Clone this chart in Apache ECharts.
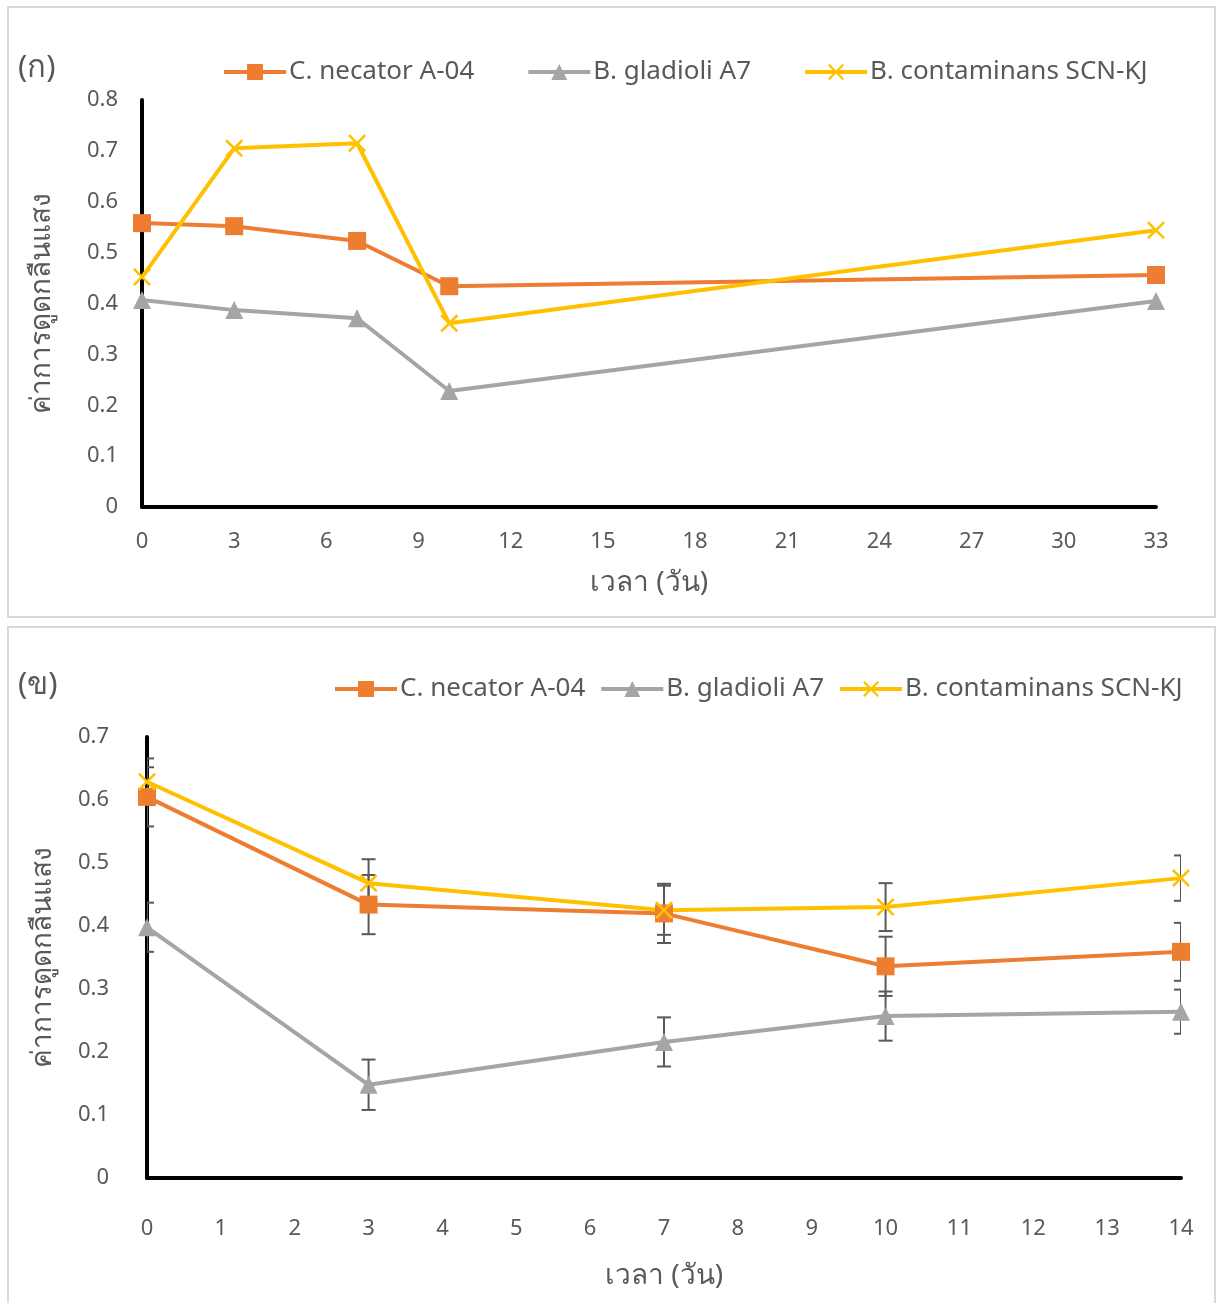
<!DOCTYPE html>
<html>
<head>
<meta charset="utf-8">
<script src="https://cdn.jsdelivr.net/npm/echarts@6/dist/echarts.min.js"></script>
<style>
  html, body { margin: 0; padding: 0; background: #fff; }
  #chart { width: 1217px; height: 1303px; }
</style>
</head>
<body>
<div id="chart"></div>
<script>
// names
var names = ['C. necator A-04', 'B. gladioli A7', 'B. contaminans SCN-KJ'];
var colors = ['#ED7D31', '#A5A5A5', '#FFC000'];

// panel (ก)
var topDays = [0, 3, 7, 10, 33];
var topNecator = [0.558, 0.552, 0.523, 0.434, 0.456];
var topGladioli = [0.407, 0.387, 0.371, 0.228, 0.405];
var topContaminans = [0.452, 0.705, 0.715, 0.361, 0.544];

// panel (ข)
var botDays = [0, 3, 7, 10, 14];
var botNecator = [0.605, 0.434, 0.420, 0.336, 0.359];
var botGladioli = [0.398, 0.148, 0.216, 0.257, 0.264];
var botContaminans = [0.629, 0.468, 0.425, 0.430, 0.476];
var errNecator = [0.047, 0.047, 0.047, 0.047, 0.046];
var errGladioli = [0.039, 0.040, 0.039, 0.039, 0.035];
var errContaminans = [0.037, 0.038, 0.039, 0.038, 0.036];

var textColor = '#595959';
var font = '"Noto Sans", sans-serif';
var crossPath = 'path://M0,1 L1,0 L5,4 L9,0 L10,1 L6,5 L10,9 L9,10 L5,6 L1,10 L0,9 L4,5 Z';
var symbols = ['rect', 'triangle', crossPath];
var symbolSizes = [18, 18, 18];

function pairs(xs, ys, es) {
    var out = [];
    for (var i = 0; i < xs.length; i++) {
        if (es) out.push([xs[i], ys[i], es[i]]);
        else out.push([xs[i], ys[i]]);
    }
    return out;
}

function lineSeries(idx, grid, xs, ys) {
    return {
        name: names[idx],
        type: 'line',
        xAxisIndex: grid,
        yAxisIndex: grid,
        data: pairs(xs, ys),
        symbol: symbols[idx],
        symbolSize: symbolSizes[idx],
        clip: false,
        z: 3,
        lineStyle: { color: colors[idx], width: 4 },
        itemStyle: { color: colors[idx] }
    };
}

function renderErr(params, api) {
    var x = api.value(0), y = api.value(1), e = api.value(2);
    var hi = api.coord([x, y + e]);
    var lo = api.coord([x, y - e]);
    var w = 7;
    var st = { stroke: '#595959', lineWidth: 2 };
    return {
        type: 'group',
        children: [
            { type: 'line', shape: { x1: hi[0], y1: hi[1], x2: lo[0], y2: lo[1] }, style: st },
            { type: 'line', shape: { x1: hi[0] - w, y1: hi[1], x2: hi[0] + w, y2: hi[1] }, style: st },
            { type: 'line', shape: { x1: lo[0] - w, y1: lo[1], x2: lo[0] + w, y2: lo[1] }, style: st }
        ]
    };
}

function errSeries(ys, es) {
    return {
        type: 'custom',
        xAxisIndex: 1,
        yAxisIndex: 1,
        data: pairs(botDays, ys, es),
        renderItem: renderErr,
        clip: true,
        z: 2,
        silent: true
    };
}

function xAxisOf(grid, max, interval, margin, nameGap) {
    return {
        type: 'value', gridIndex: grid, min: 0, max: max, interval: interval,
        name: 'เวลา (วัน)', nameLocation: 'middle', nameGap: nameGap,
        nameTextStyle: { color: textColor, fontSize: 28, fontFamily: font },
        axisLine: { lineStyle: { color: '#000', width: 4 } },
        axisTick: { show: false },
        splitLine: { show: false },
        axisLabel: { color: textColor, fontSize: 22, fontFamily: font, margin: margin }
    };
}

function yAxisOf(grid, max, margin, nameGap) {
    return {
        type: 'value', gridIndex: grid, min: 0, max: max, interval: 0.1,
        name: 'ค่าการดูดกลืนแสง', nameLocation: 'middle', nameGap: nameGap,
        nameTextStyle: { color: textColor, fontSize: 28, fontFamily: font },
        axisLine: { show: true, lineStyle: { color: '#000', width: 4 } },
        axisTick: { show: false },
        splitLine: { show: false },
        axisLabel: { color: textColor, fontSize: 22, fontFamily: font, margin: margin }
    };
}

function legendOf(left, top, gap) {
    return {
        data: names, left: left, top: top, itemGap: gap, itemWidth: 62, itemHeight: 20,
        padding: 0,
        lineStyle: { width: 4 },
        textStyle: { color: textColor, fontSize: 26, fontFamily: font, padding: [0, 0, 0, -2] }
    };
}

var myChart = echarts.init(document.getElementById('chart'));

var option = {
    backgroundColor: '#fff',
    animation: false,
    graphic: [
        { type: 'rect', shape: { x: 8, y: 7, width: 1207, height: 610 }, style: { fill: 'none', stroke: '#d9d9d9', lineWidth: 2 } },
        { type: 'rect', shape: { x: 8, y: 627, width: 1207, height: 690 }, style: { fill: 'none', stroke: '#d9d9d9', lineWidth: 2 } },
        { type: 'text', left: 18, top: 53, style: { text: '(ก)', fill: textColor, fontSize: 31, fontFamily: font } },
        { type: 'text', left: 18, top: 670, style: { text: '(ข)', fill: textColor, fontSize: 31, fontFamily: font } }
    ],
    legend: [
        legendOf(222, 59, 52),
        legendOf(333, 676, 14)
    ],
    grid: [
        { left: 142, right: 61, top: 100, bottom: 796 },
        { left: 147, right: 36, top: 737, bottom: 125 }
    ],
    xAxis: [
        xAxisOf(0, 33, 3, 24, 62),
        xAxisOf(1, 14, 1, 40, 84)
    ],
    yAxis: [
        yAxisOf(0, 0.8, 24, 86),
        yAxisOf(1, 0.7, 38, 90)
    ],
    series: [
        lineSeries(0, 0, topDays, topNecator),
        lineSeries(1, 0, topDays, topGladioli),
        lineSeries(2, 0, topDays, topContaminans),
        errSeries(botNecator, errNecator),
        errSeries(botGladioli, errGladioli),
        errSeries(botContaminans, errContaminans),
        lineSeries(0, 1, botDays, botNecator),
        lineSeries(1, 1, botDays, botGladioli),
        lineSeries(2, 1, botDays, botContaminans)
    ]
};

myChart.setOption(option);
</script>
</body>
</html>
